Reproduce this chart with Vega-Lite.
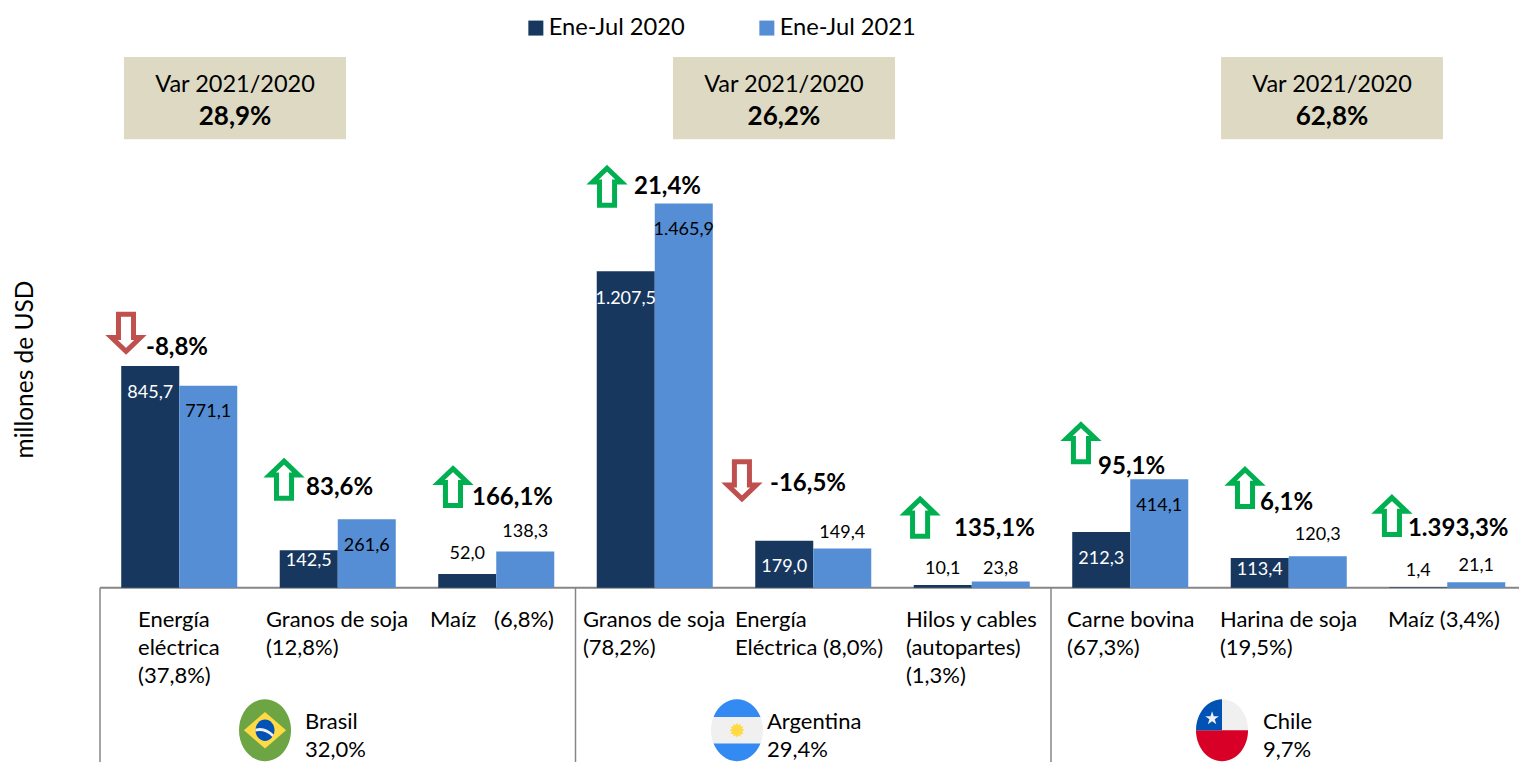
{
"$schema":"https://vega.github.io/schema/vega-lite/v6.json",
"width":1519,"height":762,"padding":0,"autosize":"none",
"background":"white",
"config":{"view":{"stroke":null},"font":"Lato","text":{"font":"Lato"}},
"datasets":{
"barras":[
{"cat":"Brasil Energía eléctrica","serie":"Ene-Jul 2020","valor":845.7,"etiqueta":"845,7","yEtiqueta":744},
{"cat":"Brasil Energía eléctrica","serie":"Ene-Jul 2021","valor":771.1,"etiqueta":"771,1","yEtiqueta":672},
{"cat":"Brasil Granos de soja","serie":"Ene-Jul 2020","valor":142.5,"etiqueta":"142,5","yEtiqueta":103},
{"cat":"Brasil Granos de soja","serie":"Ene-Jul 2021","valor":261.6,"etiqueta":"261,6","yEtiqueta":160},
{"cat":"Brasil Maíz","serie":"Ene-Jul 2020","valor":52.0,"etiqueta":"52,0","yEtiqueta":130},
{"cat":"Brasil Maíz","serie":"Ene-Jul 2021","valor":138.3,"etiqueta":"138,3","yEtiqueta":214},
{"cat":"Argentina Granos de soja","serie":"Ene-Jul 2020","valor":1207.5,"etiqueta":"1.207,5","yEtiqueta":1103},
{"cat":"Argentina Granos de soja","serie":"Ene-Jul 2021","valor":1465.9,"etiqueta":"1.465,9","yEtiqueta":1366},
{"cat":"Argentina Energía Eléctrica","serie":"Ene-Jul 2020","valor":179.0,"etiqueta":"179,0","yEtiqueta":80},
{"cat":"Argentina Energía Eléctrica","serie":"Ene-Jul 2021","valor":149.4,"etiqueta":"149,4","yEtiqueta":210},
{"cat":"Argentina Hilos y cables","serie":"Ene-Jul 2020","valor":10.1,"etiqueta":"10,1","yEtiqueta":72},
{"cat":"Argentina Hilos y cables","serie":"Ene-Jul 2021","valor":23.8,"etiqueta":"23,8","yEtiqueta":72},
{"cat":"Chile Carne bovina","serie":"Ene-Jul 2020","valor":212.3,"etiqueta":"212,3","yEtiqueta":111},
{"cat":"Chile Carne bovina","serie":"Ene-Jul 2021","valor":414.1,"etiqueta":"414,1","yEtiqueta":313},
{"cat":"Chile Harina de soja","serie":"Ene-Jul 2020","valor":113.4,"etiqueta":"113,4","yEtiqueta":69},
{"cat":"Chile Harina de soja","serie":"Ene-Jul 2021","valor":120.3,"etiqueta":"120,3","yEtiqueta":202},
{"cat":"Chile Maíz","serie":"Ene-Jul 2020","valor":1.4,"etiqueta":"1,4","yEtiqueta":65},
{"cat":"Chile Maíz","serie":"Ene-Jul 2021","valor":21.1,"etiqueta":"21,1","yEtiqueta":84}
],
"variaciones":[
{"var":"-8,8%","sube":false,"xFlecha":0.164,"yFlecha":971,"xTexto":0.29,"yTexto":916},
{"var":"83,6%","sube":true,"xFlecha":1.161,"yFlecha":414,"xTexto":1.3,"yTexto":382},
{"var":"166,1%","sube":true,"xFlecha":2.227,"yFlecha":385.5,"xTexto":2.347,"yTexto":343},
{"var":"21,4%","sube":true,"xFlecha":3.199,"yFlecha":1532,"xTexto":3.369,"yTexto":1530},
{"var":"-16,5%","sube":false,"xFlecha":4.05,"yFlecha":408,"xTexto":4.227,"yTexto":397},
{"var":"135,1%","sube":true,"xFlecha":5.174,"yFlecha":269,"xTexto":5.388,"yTexto":225},
{"var":"95,1%","sube":true,"xFlecha":6.189,"yFlecha":553,"xTexto":6.297,"yTexto":462},
{"var":"6,1%","sube":true,"xFlecha":7.224,"yFlecha":382,"xTexto":7.319,"yTexto":324},
{"var":"1.393,3%","sube":true,"xFlecha":8.151,"yFlecha":275,"xTexto":8.252,"yTexto":225}
],
"productos":[
{"t":"Energía\neléctrica\n(37,8%)","x":0.24},
{"t":"Granos de soja\n(12,8%)","x":1.047},
{"t":"Maíz","x":2.082},
{"t":"(6,8%)","x":2.486},
{"t":"Granos de soja\n(78,2%)","x":3.047},
{"t":"Energía\nEléctrica (8,0%)","x":4.006},
{"t":"Hilos y cables\n(autopartes)\n(1,3%)","x":5.085},
{"t":"Carne bovina\n(67,3%)","x":6.101},
{"t":"Harina de soja\n(19,5%)","x":7.066},
{"t":"Maíz (3,4%)","x":8.126}
],
"paises":[
{"pais":"Brasil","t":"Brasil\n32,0%","xTexto":1.293,"xBandera":1.041},
{"pais":"Argentina","t":"Argentina\n29,4%","xTexto":4.208,"xBandera":4.019},
{"pais":"Chile","t":"Chile\n9,7%","xTexto":7.338,"xBandera":7.079}
],
"cajas":[
{"x0":0.151,"x1":1.552,"xc":0.852,"titulo":"Var 2021/2020","var":"28,9%"},
{"x0":3.615,"x1":5.016,"xc":4.315,"titulo":"Var 2021/2020","var":"26,2%"},
{"x0":7.073,"x1":8.473,"xc":7.773,"titulo":"Var 2021/2020","var":"62,8%"}
],
"separadores":[{"limite":0},{"limite":3},{"limite":6}]
},
"layer":[
{"data":{"name":"separadores"},"mark":{"type":"rule","color":"#868686","strokeWidth":1.5},
 "encoding":{"x":{"field":"limite","type":"quantitative","axis":null,"scale":{"domain":[0,9],"range":[100,1526.5]}},
 "y":{"datum":0,"type":"quantitative","scale":{"domain":[-665.3,2243],"nice":false,"zero":false},"axis":{"title":"millones de USD","labels":false,"ticks":false,"domain":false,"grid":false,"titleX":25,"titleY":369,"titleFont":"Lato","titleFontSize":24.5,"titleFontWeight":"normal","titleColor":"#000","titleAngle":270,"titleAlign":"center","titleBaseline":"middle"}},
 "y2":{"datum":-665.3}}},
{"data":{"values":[{"base":0}]},"mark":{"type":"rule","color":"#868686","strokeWidth":2},
 "encoding":{"x":{"datum":0,"type":"quantitative","axis":null,"scale":{"domain":[0,9],"range":[100,1526.5]}},"x2":{"datum":9},"y":{"field":"base","type":"quantitative"}}},
{"data":{"name":"barras"},"mark":{"type":"bar"},
 "encoding":{
 "x":{"field":"cat","type":"nominal","sort":null,"axis":null,"scale":{"range":[100,1526.5],"paddingInner":0.268,"paddingOuter":0.134}},
 "xOffset":{"field":"serie","type":"nominal","scale":{"paddingInner":0,"paddingOuter":0}},
 "y":{"field":"valor","type":"quantitative","stack":null},
 "color":{"field":"serie","type":"nominal","scale":{"domain":["Ene-Jul 2020","Ene-Jul 2021"],"range":["#17375E","#558ED5"]},
 "legend":{"title":null,"orient":"none","legendX":524,"legendY":16,"direction":"horizontal","symbolType":"square","symbolSize":225,"symbolStrokeWidth":0,"symbolOpacity":1,"labelFont":"Lato","labelFontSize":23.7,"labelColor":"#000","labelOffset":1,"columnPadding":70,"labelLimit":300}}}},
{"data":{"name":"barras"},"mark":{"type":"text","fontSize":18,"align":"center","baseline":"middle"},
 "encoding":{
 "x":{"field":"cat","type":"nominal","sort":null,"axis":null,"scale":{"range":[100,1526.5],"paddingInner":0.268,"paddingOuter":0.134}},
 "xOffset":{"field":"serie","type":"nominal","scale":{"paddingInner":0,"paddingOuter":0}},
 "y":{"field":"yEtiqueta","type":"quantitative"},
 "text":{"field":"etiqueta"},
 "color":{"condition":{"test":"datum.serie==='Ene-Jul 2020' && datum.valor>100","value":"#ffffff"},"value":"#000000"}}},
{"data":{"name":"cajas"},"mark":{"type":"rect","color":"#DDD9C3"},
 "encoding":{"x":{"field":"x0","type":"quantitative","axis":null,"scale":{"domain":[0,9],"range":[100,1526.5]}},"x2":{"field":"x1"},"y":{"datum":2025,"type":"quantitative"},"y2":{"datum":1712}}},
{"data":{"name":"cajas"},"mark":{"type":"text","fontSize":23.5,"align":"center","baseline":"middle","color":"#000"},
 "encoding":{"x":{"field":"xc","type":"quantitative","axis":null,"scale":{"domain":[0,9],"range":[100,1526.5]}},"y":{"datum":1920,"type":"quantitative"},"text":{"field":"titulo"}}},
{"data":{"name":"cajas"},"mark":{"type":"text","fontSize":26,"fontWeight":"bold","align":"center","baseline":"middle","color":"#000"},
 "encoding":{"x":{"field":"xc","type":"quantitative","axis":null,"scale":{"domain":[0,9],"range":[100,1526.5]}},"y":{"datum":1798,"type":"quantitative"},"text":{"field":"var"}}},
{"data":{"name":"variaciones"},"transform":[{"filter":"datum.sube"}],"mark":{"type":"point","shape":"M0 -0.84L0.67 -0.2L0.35 -0.2L0.35 0.88L-0.35 0.88L-0.35 -0.2L-0.67 -0.2Z","filled":true,"fill":"#ffffff","stroke":"#00B050","strokeWidth":5,"strokeMiterLimit":10,"opacity":1,"size":1849},
 "encoding":{"x":{"field":"xFlecha","type":"quantitative","axis":null,"scale":{"domain":[0,9],"range":[100,1526.5]}},"y":{"field":"yFlecha","type":"quantitative"}}},
{"data":{"name":"variaciones"},"transform":[{"filter":"!datum.sube"}],"mark":{"type":"point","shape":"M0 0.84L0.67 0.2L0.35 0.2L0.35 -0.88L-0.35 -0.88L-0.35 0.2L-0.67 0.2Z","filled":true,"fill":"#ffffff","stroke":"#C0504D","strokeWidth":5,"strokeMiterLimit":10,"opacity":1,"size":1849},
 "encoding":{"x":{"field":"xFlecha","type":"quantitative","axis":null,"scale":{"domain":[0,9],"range":[100,1526.5]}},"y":{"field":"yFlecha","type":"quantitative"}}},
{"data":{"name":"variaciones"},"mark":{"type":"text","fontSize":24,"fontWeight":"bold","align":"left","baseline":"middle","color":"#000"},
 "encoding":{"x":{"field":"xTexto","type":"quantitative","axis":null,"scale":{"domain":[0,9],"range":[100,1526.5]}},"y":{"field":"yTexto","type":"quantitative"},"text":{"field":"var"}}},
{"data":{"name":"productos"},"mark":{"type":"text","fontSize":22,"align":"left","baseline":"top","color":"#000","lineBreak":"\n","lineHeight":28},
 "encoding":{"x":{"field":"x","type":"quantitative","axis":null,"scale":{"domain":[0,9],"range":[100,1526.5]}},"y":{"datum":-84,"type":"quantitative"},"text":{"field":"t"}}},
{"data":{"name":"paises"},"mark":{"type":"text","fontSize":22,"align":"left","baseline":"top","color":"#000","lineBreak":"\n","lineHeight":28},
 "encoding":{"x":{"field":"xTexto","type":"quantitative","axis":null,"scale":{"domain":[0,9],"range":[100,1526.5]}},"y":{"datum":-474,"type":"quantitative"},"text":{"field":"t"}}},
{"data":{"name":"paises"},"transform":[{"filter":"datum.pais==='Brasil'"}],"mark":{"type":"point","shape":"M-0.839 0A0.839 1 0 1 1 0.839 0A0.839 1 0 1 1 -0.839 0Z","filled":true,"fill":"#6DA544","strokeWidth":0,"opacity":1,"size":3844},
 "encoding":{"x":{"field":"xBandera","type":"quantitative","axis":null,"scale":{"domain":[0,9],"range":[100,1526.5]}},"y":{"datum":-544,"type":"quantitative"}}},
{"data":{"name":"paises"},"transform":[{"filter":"datum.pais==='Brasil'"}],"mark":{"type":"point","shape":"M-0.68 0L0 -0.59L0.68 0L0 0.59Z","filled":true,"fill":"#FFDA44","strokeWidth":0,"opacity":1,"size":3844},
 "encoding":{"x":{"field":"xBandera","type":"quantitative","axis":null,"scale":{"domain":[0,9],"range":[100,1526.5]}},"y":{"datum":-544,"type":"quantitative"}}},
{"data":{"name":"paises"},"transform":[{"filter":"datum.pais==='Brasil'"}],"mark":{"type":"point","shape":"M-0.306 0A0.306 0.345 0 1 1 0.306 0A0.306 0.345 0 1 1 -0.306 0Z","filled":true,"fill":"#0052B4","strokeWidth":0,"opacity":1,"size":3844},
 "encoding":{"x":{"field":"xBandera","type":"quantitative","axis":null,"scale":{"domain":[0,9],"range":[100,1526.5]}},"y":{"datum":-544,"type":"quantitative"}}},
{"data":{"name":"paises"},"transform":[{"filter":"datum.pais==='Brasil'"}],"mark":{"type":"point","shape":"M-0.31 -0.05Q0 -0.15 0.29 0.15L0.24 0.22Q0 -0.02 -0.31 0.04Z","filled":true,"fill":"#F0F0F0","strokeWidth":0,"opacity":1,"size":3844},
 "encoding":{"x":{"field":"xBandera","type":"quantitative","axis":null,"scale":{"domain":[0,9],"range":[100,1526.5]}},"y":{"datum":-544,"type":"quantitative"}}},
{"data":{"name":"paises"},"transform":[{"filter":"datum.pais!=='Brasil'"}],"mark":{"type":"point","shape":"M-0.839 0A0.839 1 0 1 1 0.839 0A0.839 1 0 1 1 -0.839 0Z","filled":true,"fill":"#F0F0F0","strokeWidth":0,"opacity":1,"size":3844},
 "encoding":{"x":{"field":"xBandera","type":"quantitative","axis":null,"scale":{"domain":[0,9],"range":[100,1526.5]}},"y":{"datum":-544,"type":"quantitative"}}},
{"data":{"name":"paises"},"transform":[{"filter":"datum.pais==='Argentina'"}],"mark":{"type":"point","shape":"M-0.757 -0.43A0.839 1 0 0 1 0.757 -0.43ZM-0.757 0.43A0.839 1 0 0 0 0.757 0.43Z","filled":true,"fill":"#338AF3","strokeWidth":0,"opacity":1,"size":3844},
 "encoding":{"x":{"field":"xBandera","type":"quantitative","axis":null,"scale":{"domain":[0,9],"range":[100,1526.5]}},"y":{"datum":-544,"type":"quantitative"}}},
{"data":{"name":"paises"},"transform":[{"filter":"datum.pais==='Argentina'"}],"mark":{"type":"point","shape":"M0.24 0L0.164 0.044L0.208 0.12L0.12 0.12L0.12 0.208L0.044 0.164L0 0.24L-0.044 0.164L-0.12 0.208L-0.12 0.12L-0.208 0.12L-0.164 0.044L-0.24 0L-0.164 -0.044L-0.208 -0.12L-0.12 -0.12L-0.12 -0.208L-0.044 -0.164L0 -0.24L0.044 -0.164L0.12 -0.208L0.12 -0.12L0.208 -0.12L0.164 -0.044Z","filled":true,"fill":"#FFDA44","strokeWidth":0,"opacity":1,"size":3844},
 "encoding":{"x":{"field":"xBandera","type":"quantitative","axis":null,"scale":{"domain":[0,9],"range":[100,1526.5]}},"y":{"datum":-544,"type":"quantitative"}}},
{"data":{"name":"paises"},"transform":[{"filter":"datum.pais==='Chile'"}],"mark":{"type":"point","shape":"M-0.839 0A0.839 1 0 0 0 0.839 0Z","filled":true,"fill":"#D80027","strokeWidth":0,"opacity":1,"size":3844},
 "encoding":{"x":{"field":"xBandera","type":"quantitative","axis":null,"scale":{"domain":[0,9],"range":[100,1526.5]}},"y":{"datum":-544,"type":"quantitative"}}},
{"data":{"name":"paises"},"transform":[{"filter":"datum.pais==='Chile'"}],"mark":{"type":"point","shape":"M0 -1A0.839 1 0 0 0 -0.839 0L0 0Z","filled":true,"fill":"#0052B4","strokeWidth":0,"opacity":1,"size":3844},
 "encoding":{"x":{"field":"xBandera","type":"quantitative","axis":null,"scale":{"domain":[0,9],"range":[100,1526.5]}},"y":{"datum":-544,"type":"quantitative"}}},
{"data":{"name":"paises"},"transform":[{"filter":"datum.pais==='Chile'"}],"mark":{"type":"point","shape":"M-0.32 -0.61L-0.267 -0.453L-0.101 -0.451L-0.234 -0.352L-0.185 -0.194L-0.32 -0.29L-0.455 -0.194L-0.406 -0.352L-0.539 -0.451L-0.373 -0.453Z","filled":true,"fill":"#F0F0F0","strokeWidth":0,"opacity":1,"size":3844},
 "encoding":{"x":{"field":"xBandera","type":"quantitative","axis":null,"scale":{"domain":[0,9],"range":[100,1526.5]}},"y":{"datum":-544,"type":"quantitative"}}}
],
"resolve":{"scale":{"x":"independent"},"axis":{"x":"independent"}}
}
